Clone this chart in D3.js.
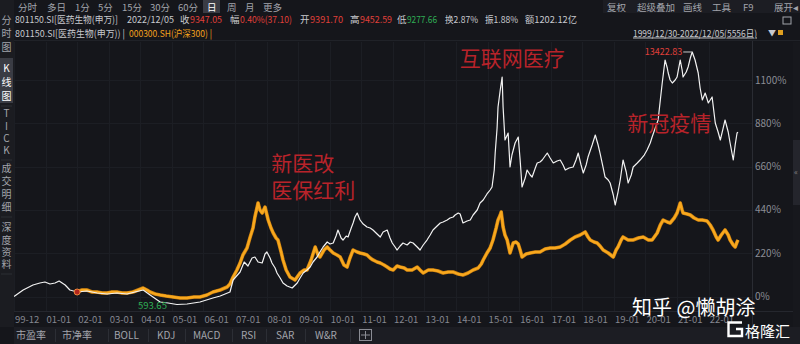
<!DOCTYPE html>
<html>
<head>
<meta charset="utf-8">
<script src="https://cdn.jsdelivr.net/npm/d3@7/dist/d3.min.js"></script>
<style>
body { margin: 0; background: #15161b; }
text { font-family: "Noto Sans CJK SC", "Noto Sans", sans-serif; }
</style>
</head>
<body>
<div id="chart"></div>
<script>
// ---- data ----
// 801150.SI 医药生物(申万), index points, base 1000 on 1999/12/30
var medYears = [2000.00,2000.29,2000.60,2000.82,2000.98,2001.14,2001.30,2001.43,2001.62,2001.77,2002.00,2002.31,2002.63,2002.95,2003.26,2003.58,2003.83,2004.09,2004.31,2004.63,2004.88,2005.16,2005.48,2005.89,2006.30,2006.53,2006.84,2006.94,2007.16,2007.29,2007.41,2007.54,2007.63,2007.73,2007.86,2007.95,2008.01,2008.11,2008.17,2008.27,2008.33,2008.43,2008.52,2008.65,2008.81,2008.97,2009.06,2009.16,2009.28,2009.38,2009.47,2009.60,2009.69,2009.79,2009.92,2010.01,2010.11,2010.20,2010.26,2010.36,2010.42,2010.52,2010.58,2010.68,2010.74,2010.80,2010.87,2010.96,2011.06,2011.18,2011.28,2011.37,2011.50,2011.60,2011.69,2011.82,2011.91,2011.98,2012.07,2012.13,2012.23,2012.32,2012.45,2012.55,2012.64,2012.77,2012.86,2012.96,2013.08,2013.18,2013.27,2013.40,2013.50,2013.59,2013.72,2013.81,2013.91,2013.97,2014.07,2014.13,2014.22,2014.35,2014.45,2014.54,2014.67,2014.76,2014.86,2014.98,2015.08,2015.14,2015.21,2015.24,2015.30,2015.33,2015.40,2015.46,2015.49,2015.55,2015.65,2015.71,2015.77,2015.87,2015.97,2016.03,2016.09,2016.19,2016.25,2016.35,2016.41,2016.51,2016.57,2016.66,2016.73,2016.82,2016.89,2016.98,2017.08,2017.20,2017.30,2017.39,2017.46,2017.58,2017.71,2017.80,2017.87,2017.96,2018.03,2018.12,2018.18,2018.31,2018.41,2018.50,2018.56,2018.66,2018.72,2018.82,2018.88,2018.98,2019.04,2019.13,2019.20,2019.29,2019.39,2019.45,2019.55,2019.61,2019.74,2019.83,2019.96,2020.05,2020.15,2020.21,2020.31,2020.40,2020.47,2020.53,2020.62,2020.69,2020.72,2020.78,2020.85,2020.94,2021.00,2021.10,2021.16,2021.19,2021.29,2021.35,2021.42,2021.48,2021.57,2021.67,2021.73,2021.80,2021.89,2021.99,2022.11,2022.21,2022.30,2022.37,2022.46,2022.52,2022.62,2022.68,2022.78,2022.84,2022.90,2022.93];
var medValues = [1000,1330,1584,1686,1737,1635,1686,1787,1584,1330,1229,1279,1178,1127,1178,1127,1229,1330,1076,721,670,593.65,619,721,924,1025,1229,1838,2245,2753,2549,2956,3007,2753,2702,3159,3261,2956,2702,2448,2194,1940,1686,1533,1432,1686,1940,2194,2346,2499,2753,3007,3261,3515,3769,3667,3718,4073,4378,3972,3870,4073,4022,4480,4734,5039,5242,4887,4683,4531,4480,4378,4175,4022,4277,4378,3972,3718,3515,3362,3566,3718,3616,3769,3718,3515,3362,3616,3870,4124,4378,4582,4734,4785,4887,4988,5039,5141,5242,5191,4734,4836,4887,5141,5395,5750,5903,6208,6411,6563,7427,8290,9560,10627,11491,12151,10627,8951,9306,7579,8189,8798,9103,7935,6563,7020,7427,7173,7071,7529,7783,7833,7935,8138,8290,8037,7783,7884,7935,7681,7427,7529,7579,7935,8290,7681,7275,7681,8087,8697,9205,8697,8290,7529,7071,6919,6767,6157,5649,6309,6919,7935,7325,6767,7173,7579,7783,7935,8189,8443,8799,9103,9560,9967,10983,11847,13016,12610,12356,12000,11847,12000,12151,13016,12508,12151,12407,12661,13118,13422.83,13016,12356,11593,10983,11339,10831,11136,9815,9357,8951,9560,9967,9357,8799,7935,8697,9306,9347.05];

// 000300.SH 沪深300 overlay, shown as % on the same axis (starts 2002)
var hsYears = [2002.00,2002.15,2002.31,2002.47,2002.63,2002.79,2002.95,2003.10,2003.26,2003.42,2003.58,2003.77,2003.93,2004.09,2004.21,2004.31,2004.47,2004.63,2004.82,2005.04,2005.26,2005.48,2005.70,2005.89,2006.11,2006.30,2006.53,2006.75,2006.84,2006.94,2007.06,2007.16,2007.25,2007.38,2007.48,2007.57,2007.63,2007.73,2007.79,2007.86,2007.95,2008.05,2008.14,2008.21,2008.30,2008.36,2008.46,2008.52,2008.62,2008.74,2008.90,2009.06,2009.19,2009.28,2009.41,2009.54,2009.63,2009.69,2009.82,2009.92,2010.01,2010.11,2010.23,2010.33,2010.45,2010.55,2010.64,2010.74,2010.87,2010.96,2011.09,2011.18,2011.28,2011.37,2011.50,2011.60,2011.72,2011.82,2011.91,2012.01,2012.13,2012.23,2012.36,2012.45,2012.61,2012.77,2012.86,2012.96,2013.12,2013.27,2013.43,2013.59,2013.75,2013.91,2014.07,2014.22,2014.38,2014.54,2014.70,2014.80,2014.86,2014.98,2015.08,2015.17,2015.27,2015.33,2015.40,2015.43,2015.49,2015.55,2015.62,2015.71,2015.81,2015.90,2015.97,2016.03,2016.09,2016.22,2016.35,2016.51,2016.66,2016.82,2016.98,2017.14,2017.30,2017.46,2017.62,2017.77,2017.93,2018.09,2018.18,2018.25,2018.37,2018.47,2018.56,2018.66,2018.82,2018.98,2019.07,2019.13,2019.23,2019.29,2019.45,2019.61,2019.77,2019.93,2020.09,2020.21,2020.37,2020.47,2020.56,2020.69,2020.78,2020.91,2021.00,2021.10,2021.16,2021.19,2021.32,2021.42,2021.54,2021.67,2021.80,2021.95,2022.05,2022.14,2022.24,2022.30,2022.40,2022.52,2022.62,2022.68,2022.78,2022.84,2022.90,2022.93];
var hsPct = [22.9,33.0,33.0,22.9,22.9,17.8,17.8,22.9,22.9,17.8,17.8,22.9,33.0,43.2,33.0,22.9,12.7,7.6,2.5,-2.5,-7.6,-7.6,-2.5,-2.5,7.6,22.9,33.0,48.3,63.5,99.1,134.6,170.2,210.9,246.4,302.3,348.0,403.9,475.1,439.5,424.3,454.7,388.7,348.0,322.6,297.2,287.1,226.1,185.5,134.6,99.1,83.8,119.4,134.6,134.6,185.5,251.5,210.9,200.7,236.3,251.5,236.3,221.0,210.9,200.7,160.1,149.9,195.6,236.3,226.1,221.0,215.9,210.9,195.6,185.5,175.3,170.2,160.1,149.9,139.7,134.6,155.0,149.9,144.8,134.6,134.6,149.9,134.6,119.4,134.6,134.6,129.6,119.4,124.5,124.5,114.3,109.2,119.4,134.6,144.8,165.1,185.5,221.0,246.4,287.1,348.0,388.7,414.1,429.3,353.1,312.5,287.1,221.0,271.8,276.9,266.8,236.3,200.7,216.0,221.0,226.1,226.1,241.3,246.4,246.4,251.5,266.8,287.1,302.3,312.5,327.7,302.3,287.1,276.9,271.8,256.6,236.3,221.0,200.7,236.3,251.5,287.1,302.3,287.1,287.1,297.2,302.3,287.1,287.1,322.6,363.3,388.7,378.5,373.4,398.9,424.3,475.1,439.5,424.3,419.2,414.1,398.9,388.7,388.7,383.6,363.3,337.9,302.3,287.1,312.5,337.9,312.5,287.1,261.7,251.5,276.9,287.1];

var xTickYears = [2000,2001,2002,2003,2004,2005,2006,2007,2008,2009,2010,2011,2012,2013,2014,2015,2016,2017,2018,2019,2020,2021,2022];
var xTickLabels = ["99-12","01-01","02-01","03-01","04-01","05-01","06-01","07-01","08-01","09-01","10-01","11-01","12-01","13-01","14-01","15-01","16-01","17-01","18-01","19-01","20-01","21-01","22-01"];
var yTicks = [0,220,440,660,880,1100];

var periodTabs = ["分时","多日","1分","5分","15分","30分","60分","日","周","月","更多"];
var toolTabs = ["复权","超级叠加","画线","工具","F9","展开◂"];
var sideTabs = [["分","时","图"],["K","线","图"],["T","I","C","K"],["成","交","明","细"],["深","度","资","料"]];
var bottomTabs = ["市盈率","市净率","BOLL","KDJ","MACD","RSI","SAR","W&R"];

var notes = [
    {lines:["互联网医疗"], year:2014.12, pct:1170},
    {lines:["新医改","医保红利"], year:2008.15, pct:640},
    {lines:["新冠疫情"], year:2019.42, pct:840}
];

var base = medValues[0];
var width = 800, height = 344;

var svg = d3.select("#chart").append("svg")
    .attr("width", width)
    .attr("height", height)
    .style("display", "block");

svg.append("rect").attr("width", width).attr("height", height).attr("fill", "#15161b");

var x = d3.scaleLinear().domain([2000, 2022.93]).range([14, 738]);
var y = d3.scaleLinear().domain([0, 1100]).range([296.5, 80]);

// panels
svg.append("rect").attr("x", 0).attr("y", 0).attr("width", 14).attr("height", 327).attr("fill", "#1b1c21");
svg.append("rect").attr("x", 603).attr("y", 0).attr("width", 197).attr("height", 13).attr("fill", "#1c1d23");
svg.append("rect").attr("x", 14).attr("y", 327).attr("width", 786).attr("height", 17).attr("fill", "#1c1d23");
svg.append("rect").attr("x", 793).attr("y", 42).attr("width", 7).attr("height", 285).attr("fill", "#17181d");
svg.append("rect").attr("x", 793).attr("y", 140).attr("width", 7).attr("height", 65).attr("fill", "#24252c");
svg.append("text").attr("x", 796).attr("y", 175).attr("text-anchor", "middle")
    .attr("font-size", 8).attr("fill", "#888").text("«");

// grid
var grid = svg.append("g").attr("stroke", "#1c1e24").attr("stroke-width", 1);
grid.selectAll(".gx").data(xTickYears).enter().append("line")
    .attr("x1", function (d) { return Math.round(x(d)) + 0.5; })
    .attr("x2", function (d) { return Math.round(x(d)) + 0.5; })
    .attr("y1", 42).attr("y2", 311);
grid.selectAll(".gy").data(yTicks).enter().append("line")
    .attr("x1", 14).attr("x2", 752)
    .attr("y1", function (d) { return Math.round(y(d)) + 0.5; })
    .attr("y2", function (d) { return Math.round(y(d)) + 0.5; });

svg.append("line").attr("x1", 752.5).attr("x2", 752.5).attr("y1", 40).attr("y2", 327).attr("stroke", "#2a2c33");
svg.append("line").attr("x1", 14).attr("x2", 793).attr("y1", 311.5).attr("y2", 311.5).attr("stroke", "#25272e");
svg.append("line").attr("x1", 14).attr("x2", 800).attr("y1", 40.5).attr("y2", 40.5).attr("stroke", "#202228");

// right axis
svg.append("g").selectAll("text").data(yTicks).enter().append("text")
    .attr("x", 755).attr("y", function (d) { return y(d) + 3.5; })
    .attr("font-size", 10).attr("fill", "#8b8d95")
    .text(function (d) { return d + "%"; });

// bottom axis
svg.append("g").selectAll("text").data(xTickYears).enter().append("text")
    .attr("x", function (d) { return x(d) + 1; })
    .attr("y", 322.5)
    .attr("font-size", 9.5).attr("fill", "#858790")
    .text(function (d, i) { return xTickLabels[i]; });

// series
svg.append("clipPath").attr("id", "plot").append("rect")
    .attr("x", 14).attr("y", 41).attr("width", 738).attr("height", 270);

var plot = svg.append("g").attr("clip-path", "url(#plot)");

var medLine = d3.line()
    .x(function (d, i) { return x(medYears[i]); })
    .y(function (d) { return y((d / base - 1) * 100); });

var hsLine = d3.line()
    .x(function (d, i) { return x(hsYears[i]); })
    .y(function (d) { return y(d); });

plot.append("path").datum(hsPct)
    .attr("d", hsLine)
    .attr("fill", "none")
    .attr("stroke", "#c77d10")
    .attr("stroke-width", 3.6)
    .attr("stroke-linejoin", "round");
plot.append("path").datum(hsPct)
    .attr("d", hsLine)
    .attr("fill", "none")
    .attr("stroke", "#f8a81e")
    .attr("stroke-width", 2.4)
    .attr("stroke-linejoin", "round");

plot.append("path").datum(medValues)
    .attr("d", medLine)
    .attr("fill", "none")
    .attr("stroke", "#f2f2f2")
    .attr("stroke-width", 1.2)
    .attr("stroke-linejoin", "round");

// overlay start marker
plot.append("circle")
    .attr("cx", x(hsYears[0])).attr("cy", y(hsPct[0]))
    .attr("r", 3).attr("fill", "#b3261e").attr("stroke", "#f08a3c").attr("stroke-width", 1);

// max / min labels
var iMax = d3.maxIndex(medValues), iMin = d3.minIndex(medValues);
var px = x(medYears[iMax]), py = y((medValues[iMax] / base - 1) * 100);
svg.append("line").attr("x1", px - 9).attr("x2", px).attr("y1", py).attr("y2", py)
    .attr("stroke", "#c9c9c9").attr("stroke-width", 1);
svg.append("text").attr("x", px - 10).attr("y", py + 3).attr("text-anchor", "end")
    .attr("font-size", 9).attr("fill", "#e0403a")
    .text(d3.format(".2f")(medValues[iMax]));
var mx = x(medYears[iMin]), my = y((medValues[iMin] / base - 1) * 100);
svg.append("text").attr("x", mx - 10).attr("y", my + 5).attr("text-anchor", "end")
    .attr("font-size", 9.5).attr("fill", "#2fae55")
    .text(d3.format(".2f")(medValues[iMin]));

// red annotations
notes.forEach(function (n) {
    n.lines.forEach(function (t, k) {
        svg.append("text")
            .attr("x", x(n.year)).attr("y", y(n.pct) + k * 27)
            .attr("font-size", 21).attr("fill", "#b8232a")
            .text(t);
    });
});

// top period tabs
var tabX = [18, 47, 75, 98, 122, 150, 178, 207, 227, 245, 263];
svg.append("rect").attr("x", 203).attr("y", 0).attr("width", 17).attr("height", 13).attr("fill", "#3a3c44");
svg.append("g").selectAll("text").data(periodTabs).enter().append("text")
    .attr("x", function (d, i) { return tabX[i]; })
    .attr("y", 10.5)
    .attr("font-size", 9.5)
    .attr("fill", function (d) { return d === "日" ? "#ffffff" : "#a2a4ab"; })
    .text(function (d) { return d; });

var toolX = [607, 637, 683, 712, 743, 774];
svg.append("g").selectAll("text").data(toolTabs).enter().append("text")
    .attr("x", function (d, i) { return toolX[i]; })
    .attr("y", 10.5)
    .attr("font-size", 9.5).attr("fill", "#a2a4ab")
    .text(function (d) { return d; });

// quote row
var quoteParts = [
    ["801150.SI[医药生物(申万)]", "#c8c9ce", 15, 103],
    ["2022/12/05", "#c8c9ce", 127, 47],
    ["收", "#c8c9ce", 180, 0], ["9347.05", "#e0403a", 190, 32],
    ["幅", "#c8c9ce", 230, 0], ["0.40%(37.10)", "#e0403a", 240, 52],
    ["开", "#c8c9ce", 300, 0], ["9391.70", "#e0403a", 310, 33],
    ["高", "#c8c9ce", 350, 0], ["9452.59", "#e0403a", 360, 32],
    ["低", "#c8c9ce", 397, 0], ["9277.66", "#2fae55", 407, 30],
    ["换2.87%", "#c8c9ce", 445, 33],
    ["振1.88%", "#c8c9ce", 485, 33],
    ["额1202.12亿", "#c8c9ce", 525, 52]
];
svg.append("g").selectAll("text").data(quoteParts).enter().append("text")
    .attr("x", function (d) { return d[2]; })
    .attr("y", 22.5)
    .attr("font-size", 9.5)
    .attr("fill", function (d) { return d[1]; })
    .each(function (d) {
        if (d[3]) d3.select(this).attr("textLength", d[3]).attr("lengthAdjust", "spacingAndGlyphs");
    })
    .text(function (d) { return d[0]; });

svg.append("text").attr("x", 15).attr("y", 36.5).attr("font-size", 9.5).attr("fill", "#c8c9ce")
    .attr("textLength", 110).attr("lengthAdjust", "spacingAndGlyphs")
    .text("801150.SI[医药生物(申万)) |");
svg.append("text").attr("x", 129).attr("y", 36.5).attr("font-size", 9.5).attr("fill", "#f5a21c")
    .attr("textLength", 83).attr("lengthAdjust", "spacingAndGlyphs")
    .text("000300.SH(沪深300) |");

svg.append("text").attr("x", 633).attr("y", 36.5)
    .attr("font-size", 9.5).attr("fill", "#c8c9ce").attr("text-decoration", "underline")
    .attr("textLength", 124).attr("lengthAdjust", "spacingAndGlyphs")
    .text("1999/12/30-2022/12/05(5556日)");
svg.append("text").attr("x", 768).attr("y", 36).attr("font-size", 8).attr("fill", "#c8c9ce").text("▼");
svg.append("rect").attr("x", 778).attr("y", 30).attr("width", 5).attr("height", 5).attr("fill", "#e0a020");
svg.append("rect").attr("x", 783).attr("y", 17).attr("width", 8).attr("height", 7)
    .attr("fill", "none").attr("stroke", "#a2a4ab");

// side tabs
var sideY = [[20, 33, 47], [68, 82, 96], [113, 126, 138, 150], [168, 181, 194, 207], [227, 240, 252, 264]];
svg.append("rect").attr("x", 0).attr("y", 58).attr("width", 13).attr("height", 45).attr("fill", "#3a3c44");
sideTabs.forEach(function (g, gi) {
    g.forEach(function (c, ci) {
        svg.append("text").attr("x", 6.5).attr("y", sideY[gi][ci] + 4)
            .attr("text-anchor", "middle").attr("font-size", 10)
            .attr("fill", gi === 1 ? "#ffffff" : "#a2a4ab")
            .text(c);
    });
    if (gi > 0) {
        svg.append("line").attr("x1", 1).attr("x2", 12)
            .attr("y1", sideY[gi][g.length - 1] + 10).attr("y2", sideY[gi][g.length - 1] + 10)
            .attr("stroke", "#2c2e35");
    }
});

// bottom indicator tabs
var btX = [16, 62, 114, 157, 193, 241, 276, 315];
svg.append("g").selectAll("text").data(bottomTabs).enter().append("text")
    .attr("x", function (d, i) { return btX[i]; })
    .attr("y", 339).attr("font-size", 10).attr("fill", "#a2a4ab")
    .text(function (d) { return d; });
var sepX = [55, 108, 148, 185, 232, 266, 305, 350];
svg.append("g").selectAll("line").data(sepX).enter().append("line")
    .attr("x1", function (d) { return d + 0.5; }).attr("x2", function (d) { return d + 0.5; })
    .attr("y1", 329).attr("y2", 342).attr("stroke", "#2c2e35");
svg.append("rect").attr("x", 359.5).attr("y", 329.5).attr("width", 12).attr("height", 11)
    .attr("fill", "none").attr("stroke", "#8a8c94");
svg.append("path").attr("d", "M365.5,331 V339 M361,335 H370").attr("stroke", "#8a8c94");

// watermarks
svg.append("text").attr("x", 632).attr("y", 315).attr("font-size", 20).attr("fill", "#ffffff").text("知乎 @懒胡涂");
svg.append("path").attr("d", "M742,322.5 H728.5 V336 H742 V329 H736")
    .attr("fill", "none").attr("stroke", "#ffffff").attr("stroke-width", 2.4);
svg.append("text").attr("x", 745).attr("y", 337).attr("font-size", 15).attr("fill", "#ffffff").text("格隆汇");
</script>
</body>
</html>
